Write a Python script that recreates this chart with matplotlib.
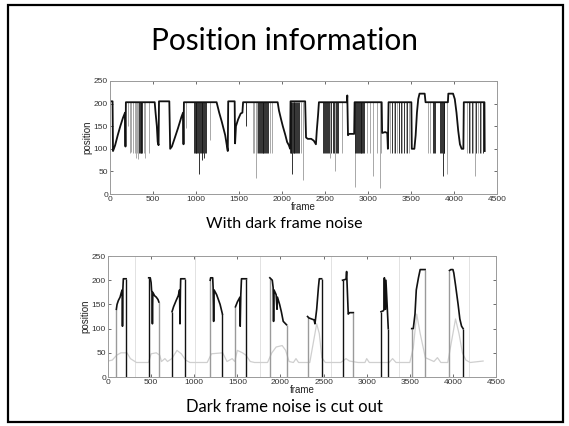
import matplotlib
matplotlib.use("Agg")
import matplotlib.pyplot as plt
from matplotlib.patches import Rectangle

# ---- top plot: raw position trace (frame, position) ----
raw_frames = [0, 30, 35, 45, 60, 90, 120, 150, 175, 180, 185, 520, 530, 545, 555, 565, 570,
              690, 700, 720, 750, 790, 830, 850, 855, 860, 1240, 1270, 1300, 1340, 1365, 1370,
              1375, 1450, 1455, 1465, 1490, 1520, 1540, 1548, 1950, 1965, 1990, 2010, 2040, 2060,
              2080, 2095, 2100, 2270, 2280, 2300, 2340, 2370, 2395, 2405, 2420, 2430, 2755, 2760,
              2768, 2780, 2840, 2845, 3160, 3165, 3200, 3225, 3232, 3240, 3505, 3510, 3540, 3555,
              3570, 3585, 3600, 3660, 3670, 3930, 3935, 3990, 4010, 4030, 4050, 4070, 4090, 4110,
              4115, 4355, 4358]
raw_pos = [205, 205, 95, 100, 108, 130, 150, 168, 180, 105, 203, 203, 180, 150, 115, 108, 205,
           205, 100, 105, 122, 145, 170, 180, 110, 203, 203, 180, 160, 130, 100, 95,
           205, 205, 112, 150, 165, 178, 180, 203, 203, 185, 165, 150, 130, 115,
           108, 100, 205, 205, 125, 122, 122, 118, 110, 140, 175, 203, 203, 218,
           130, 133, 133, 203, 203, 135, 137, 135, 100, 203, 203, 100, 100, 130,
           180, 210, 222, 222, 203, 203, 222, 222, 210, 180, 140, 110, 100, 100,
           203, 203, 95]

# single-frame dropouts from the plateau (frame, lowest position, dark?)
spike_frames = [215, 230, 248, 268, 291, 300, 312, 322, 340, 348, 356, 364, 372, 395, 405, 455,
                885, 975, 985, 995, 1005, 1015, 1025, 1035, 1045, 1055, 1065, 1075, 1085, 1095, 1105, 1115, 1160,
                1580, 1665, 1680, 1697, 1710, 1725, 1735, 1745, 1755, 1765, 1775, 1785, 1795, 1805, 1815, 1825, 1835, 1860, 1880,
                2090, 2100, 2110, 2116, 2125, 2135, 2145, 2155, 2165, 2175, 2185, 2195, 2225, 2240,
                2480, 2490, 2500, 2510, 2520, 2530, 2545, 2560, 2575, 2590, 2600, 2616, 2630, 2645, 2655, 2700,
                2850, 2855, 2865, 2875, 2885, 2895, 2905, 2915, 2925, 2935, 2945, 2960, 2990, 3020, 3062, 3100, 3140, 3150,
                3260, 3280, 3300, 3320, 3340, 3360, 3380, 3400, 3420, 3440, 3460, 3480,
                3700, 3720, 3760, 3770, 3780, 3840, 3850, 3860, 3868, 3880, 3890, 3922,
                4150, 4170, 4190, 4210, 4225, 4240, 4260, 4280, 4300, 4320, 4340]
spike_lows = [150, 90, 92, 90, 90, 80, 90, 78, 90, 90, 90, 90, 90, 90, 80, 90,
              145, 90, 90, 90, 90, 90, 90, 45, 90, 90, 75, 90, 90, 80, 90, 90, 120,
              150, 90, 90, 35, 90, 90, 90, 90, 90, 90, 90, 90, 90, 90, 90, 90, 90, 90, 90,
              90, 90, 90, 45, 90, 90, 90, 90, 90, 90, 90, 90, 90, 30,
              90, 90, 90, 90, 90, 90, 90, 80, 90, 90, 90, 50, 90, 90, 90, 90,
              15, 90, 90, 90, 90, 90, 90, 90, 90, 90, 90, 90, 90, 90, 40, 90, 13, 90,
              90, 90, 90, 90, 90, 90, 90, 90, 90, 90, 90, 90,
              90, 90, 90, 90, 90, 90, 90, 90, 40, 90, 90, 45,
              90, 90, 90, 90, 90, 40, 90, 90, 90, 90, 90]
spike_dark = [0, 0, 0, 0, 0, 0, 0, 0, 1, 1, 1, 1, 1, 0, 0, 0,
              0, 1, 1, 1, 1, 1, 1, 1, 1, 1, 1, 1, 1, 1, 1, 1, 0,
              1, 0, 0, 0, 0, 1, 1, 1, 1, 1, 1, 1, 1, 1, 1, 1, 1, 0, 0,
              1, 1, 1, 1, 1, 1, 1, 1, 1, 1, 1, 1, 0, 0,
              1, 1, 1, 1, 1, 1, 1, 0, 1, 1, 1, 0, 1, 1, 1, 0,
              0, 1, 1, 1, 1, 1, 1, 1, 1, 1, 1, 1, 0, 0, 0, 0, 0, 0,
              0, 1, 0, 1, 0, 1, 1, 0, 1, 0, 1, 0,
              0, 0, 1, 1, 1, 1, 1, 1, 1, 1, 1, 0,
              0, 1, 0, 1, 0, 0, 1, 0, 1, 0, 1]
plateau_level = 203

# ---- bottom plot: kept segments after cutting dark frames ----
cut_segments = [
    [(97, 140), (105, 150), (120, 158), (140, 165), (155, 175), (165, 180), (168, 105), (172, 180),
     (178, 203), (210, 203)],
    [(472, 205), (490, 205), (500, 195), (505, 180), (510, 175), (515, 110), (520, 175), (540, 168),
     (560, 165), (580, 160), (590, 155)],
    [(743, 135), (760, 145), (790, 158), (815, 168), (830, 180), (835, 110), (840, 180), (843, 203),
     (890, 203)],
    [(1185, 200), (1190, 205), (1214, 205), (1219, 185), (1225, 115), (1230, 180), (1260, 170),
     (1300, 150), (1327, 130)],
    [(1478, 145), (1500, 155), (1530, 165), (1533, 105), (1540, 170), (1548, 203), (1606, 203)],
    [(1877, 205), (1905, 200), (1915, 185), (1920, 115), (1925, 180), (1950, 170), (1960, 140),
     (1965, 165), (1990, 150), (2010, 135), (2032, 115), (2070, 108)],
    [(2314, 125), (2330, 122), (2360, 120), (2390, 118), (2400, 110), (2420, 140), (2440, 185),
     (2450, 203), (2477, 203)],
    [(2720, 200), (2760, 202), (2767, 218), (2786, 130), (2800, 133), (2845, 133)],
    [(3166, 135), (3195, 137), (3200, 140), (3205, 205), (3210, 140), (3218, 140), (3223, 200),
     (3250, 100)],
    [(3522, 100), (3540, 100), (3560, 130), (3575, 180), (3600, 205), (3620, 222), (3665, 222),
     (3677, 222)],
    [(3960, 220), (3975, 222), (4000, 222), (4010, 215), (4030, 190), (4060, 150), (4080, 120),
     (4100, 105), (4118, 100)],
]
cut_start_dark = [0, 1, 1, 0, 0, 0, 0, 1, 1, 0, 0]
cut_end_dark = [1, 0, 1, 1, 1, 0, 1, 0, 1, 0, 1]

# light background trace and boundary markers
bg_frames = [0, 50, 100, 150, 220, 260, 330, 470, 500, 560, 600, 620, 660, 690, 740, 800, 850, 900,
             950, 1150, 1200, 1330, 1380, 1440, 1470, 1500, 1560, 1600, 1650, 1700, 1850, 1900, 1950,
             2020, 2060, 2100, 2150, 2180, 2210, 2340, 2380, 2420, 2450, 2480, 2520, 2700, 2760, 2800,
             2900, 2980, 3000, 3030, 3260, 3300, 3340, 3500, 3540, 3580, 3620, 3680, 3780, 3820, 3860,
             3940, 3990, 4030, 4070, 4110, 4150, 4200, 4350]
bg_pos = [33, 35, 45, 50, 50, 38, 30, 30, 48, 50, 45, 32, 38, 32, 38, 55, 48, 35,
          30, 30, 48, 50, 32, 38, 32, 55, 50, 45, 32, 30, 30, 50, 62,
          65, 55, 32, 30, 38, 30, 30, 70, 110, 90, 40, 30, 30, 38, 33,
          30, 30, 38, 30, 30, 38, 30, 30, 60, 130, 90, 40, 32, 40, 30,
          30, 80, 120, 90, 50, 35, 30, 33]
boundary_frames = [318, 1014, 1760, 2585, 3378, 4190]

xticks = [0, 500, 1000, 1500, 2000, 2500, 3000, 3500, 4000, 4500]
yticks = [0, 50, 100, 150, 200, 250]

DARK = "#111111"
GRAY = "#9a9a9a"
SLIDE_FONT = ["Lato", "DejaVu Sans"]
PLOT_FONT = ["Liberation Sans", "DejaVu Sans"]


def style_axes(ax):
    """MATLAB-like box with inward ticks on all sides."""
    ax.set_xlim(0, 4500)
    ax.set_ylim(0, 250)
    ax.set_xticks(xticks)
    ax.set_yticks(yticks)
    ax.tick_params(direction="in", top=True, right=True, length=2.5, width=0.5,
                   labelsize=6, colors="#333333", pad=1.5)
    for lbl in ax.get_xticklabels() + ax.get_yticklabels():
        lbl.set_family(PLOT_FONT)
    for sp in ax.spines.values():
        sp.set_color("#9a9a9a")
        sp.set_linewidth(0.7)
    ax.set_xlabel("frame", fontsize=7, labelpad=-1, color="#222222", family=PLOT_FONT)
    ax.set_ylabel("position", fontsize=7, labelpad=1, color="#222222", family=PLOT_FONT)


fig = plt.figure(figsize=(5.69, 4.26), dpi=100)

# slide border
fig.patches.append(Rectangle((8 / 569, 4 / 426), 555 / 569, 417 / 426, transform=fig.transFigure,
                             fill=False, edgecolor="black", linewidth=1.6))

fig.text(0.5, 0.903, "Position information", ha="center", va="center", fontsize=21.5,
         family=SLIDE_FONT)

# Top plot: with dark frame noise
ax1 = fig.add_axes([0.1933, 0.5446, 0.680, 0.2653])
for f, lo, d in zip(spike_frames, spike_lows, spike_dark):
    ax1.vlines(f, lo, plateau_level, colors=DARK if d else GRAY, linewidth=0.6)
ax1.plot(raw_frames, raw_pos, color=DARK, linewidth=1.3)
style_axes(ax1)
fig.text(0.5, 0.474, "With dark frame noise", ha="center", va="center", fontsize=11.5,
         family=SLIDE_FONT)

# Bottom plot: dark frame noise removed
ax2 = fig.add_axes([0.1898, 0.1150, 0.682, 0.284])
for bf in boundary_frames:
    ax2.axvline(bf, color="#e2e2e2", linewidth=0.7)
ax2.plot(bg_frames, bg_pos, color="#cfcfcf", linewidth=0.9)
for seg, sd, ed in zip(cut_segments, cut_start_dark, cut_end_dark):
    fr = [p[0] for p in seg]
    ps = [p[1] for p in seg]
    ax2.vlines(fr[0], 0, ps[0], colors=DARK if sd else GRAY, linewidth=1.0)
    ax2.vlines(fr[-1], 0, ps[-1], colors=DARK if ed else GRAY, linewidth=1.0)
    ax2.plot(fr, ps, color=DARK, linewidth=1.2)
style_axes(ax2)
fig.text(0.5, 0.045, "Dark frame noise is cut out", ha="center", va="center", fontsize=12,
         family=SLIDE_FONT)

fig.savefig("out.png", dpi=100, facecolor="white")
